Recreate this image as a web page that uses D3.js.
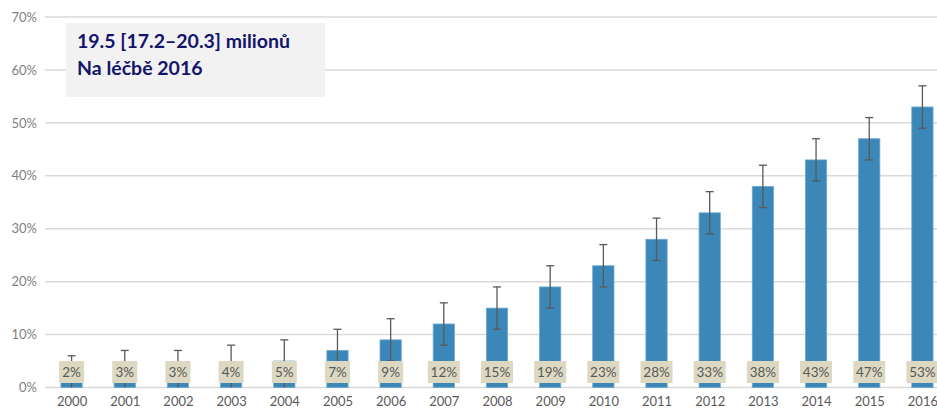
<!DOCTYPE html>
<html>
<head>
<meta charset="utf-8">
<script src="https://cdn.jsdelivr.net/npm/d3@7"></script>
<style>
  body { margin: 0; background: #fff; }
  svg { display: block; font-family: Lato, "Open Sans", sans-serif; }
</style>
</head>
<body>
<svg id="chart" width="937" height="412"></svg>
<script>
// chart data
const years = ['2000', '2001', '2002', '2003', '2004', '2005', '2006', '2007', '2008',
  '2009', '2010', '2011', '2012', '2013', '2014', '2015', '2016'];
const coverage = [2, 3, 3, 4, 5, 7, 9, 12, 15, 19, 23, 28, 33, 38, 43, 47, 53];
const lower = [0, 0, 0, 0, 0, 3, 5, 8, 11, 15, 19, 24, 29, 34, 39, 43, 49];
const upper = [6, 7, 7, 8, 9, 11, 13, 16, 19, 23, 27, 32, 37, 42, 47, 51, 57];
const yTicks = [0, 10, 20, 30, 40, 50, 60, 70];
const titleLines = ['19.5 [17.2–20.3] milionů', 'Na léčbě 2016'];

const width = 937;
const height = 412;
const margin = { top: 17, right: 0, bottom: 25, left: 45 };

const rows = years.map((year, i) => ({
  year,
  value: coverage[i],
  lo: lower[i],
  hi: upper[i],
}));

const svg = d3.select('#chart');

const x = d3
  .scalePoint()
  .domain(years)
  .range([margin.left, 949])
  .padding(0.5);

const y = d3
  .scaleLinear()
  .domain([0, 70])
  .range([387.5, margin.top]);

const barW = x.step() * 0.4;

// gridlines
svg
  .append('g')
  .selectAll('line')
  .data(yTicks)
  .enter()
  .append('line')
  .attr('x1', margin.left)
  .attr('x2', width)
  .attr('y1', (d) => y(d))
  .attr('y2', (d) => y(d))
  .attr('stroke', '#d9d9d9')
  .attr('stroke-width', 1.5);

// y axis labels
const yAxis = d3.axisLeft(y).tickValues(yTicks).tickFormat((d) => d + '%').tickSize(0).tickPadding(0);
svg
  .append('g')
  .attr('transform', 'translate(37,0)')
  .call(yAxis)
  .call((g) => g.select('.domain').remove())
  .selectAll('text')
  .attr('fill', '#7f7f7f')
  .style('font-size', '13px')
  .style('font-family', 'Lato, "Open Sans", sans-serif');

// x axis labels
const xAxis = d3.axisBottom(x).tickSize(0).tickPadding(0);
svg
  .append('g')
  .attr('transform', 'translate(0,397)')
  .call(xAxis)
  .call((g) => g.select('.domain').remove())
  .selectAll('text')
  .attr('fill', '#595959')
  .style('font-size', '13px')
  .style('font-family', 'Lato, "Open Sans", sans-serif');

// bars
svg
  .append('g')
  .selectAll('rect')
  .data(rows)
  .enter()
  .append('rect')
  .attr('x', (d) => x(d.year) - barW / 2)
  .attr('y', (d) => y(d.value))
  .attr('width', barW)
  .attr('height', (d) => y(0) - y(d.value))
  .attr('fill', '#3a87b8')
  .attr('stroke', '#6ea9d2')
  .attr('stroke-width', 0.8);

// error bars
const err = svg
  .append('g')
  .selectAll('g')
  .data(rows)
  .enter()
  .append('g')
  .attr('stroke', '#595959')
  .attr('stroke-width', 1.3);

err
  .append('line')
  .attr('x1', (d) => x(d.year))
  .attr('x2', (d) => x(d.year))
  .attr('y1', (d) => y(d.hi))
  .attr('y2', (d) => y(d.lo));

err
  .append('line')
  .attr('x1', (d) => x(d.year) - 4)
  .attr('x2', (d) => x(d.year) + 4)
  .attr('y1', (d) => y(d.hi))
  .attr('y2', (d) => y(d.hi));

err
  .filter((d) => d.lo > 0)
  .append('line')
  .attr('x1', (d) => x(d.year) - 4)
  .attr('x2', (d) => x(d.year) + 4)
  .attr('y1', (d) => y(d.lo))
  .attr('y2', (d) => y(d.lo));

// value labels
const labels = svg
  .append('g')
  .selectAll('g')
  .data(rows)
  .enter()
  .append('g')
  .attr('transform', (d) => `translate(${x(d.year)}, 0)`);

labels
  .append('rect')
  .attr('x', (d) => (d.value < 10 ? -12.5 : -16))
  .attr('y', 361)
  .attr('width', (d) => (d.value < 10 ? 25 : 32))
  .attr('height', 22)
  .attr('fill', '#dcd8c2');

labels
  .append('text')
  .attr('y', 377)
  .attr('text-anchor', 'middle')
  .attr('fill', '#595959')
  .style('font-size', '13.5px')
  .text((d) => d.value + '%');

// title box
svg
  .append('rect')
  .attr('x', 66)
  .attr('y', 23)
  .attr('width', 259)
  .attr('height', 74)
  .attr('fill', '#f2f2f2');

svg
  .append('g')
  .selectAll('text')
  .data(titleLines)
  .enter()
  .append('text')
  .attr('x', 77)
  .attr('y', (d, i) => 48 + i * 27)
  .attr('fill', '#14146b')
  .style('font-size', '19.5px')
  .style('font-weight', 'bold')
  .text((d) => d);
</script>
</body>
</html>
